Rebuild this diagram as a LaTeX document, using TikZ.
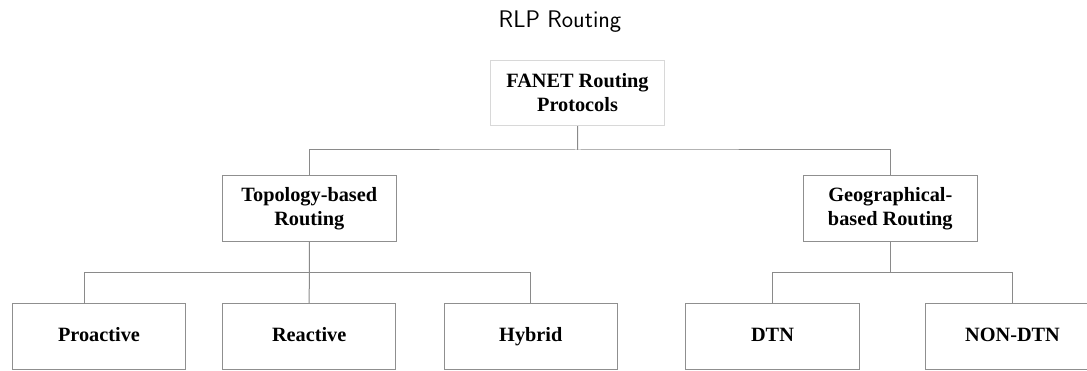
\documentclass[tikz,border=0pt]{standalone}
\usepackage{fontspec}
\newfontfamily\boxfont{Liberation Serif}
\definecolor{linegray}{HTML}{8A8A8A}
\definecolor{boxgray}{HTML}{8F8F8F}
\definecolor{lightgray2}{HTML}{D8D8D8}
\begin{document}
\begin{tikzpicture}[x=1pt,y=-1pt,
  box/.style={draw=boxgray, line width=1pt, fill=white, minimum width=173.5pt,
    minimum height=65.5pt, inner sep=0pt, align=center,
    font=\boxfont\bfseries\fontsize{20.3}{23.5}\selectfont},
  leaf/.style={box, text height=14pt, text depth=3.6pt},
  link/.style={draw=linegray, line width=1pt},
  titletext/.style={font=\sffamily\fontsize{24}{28}\selectfont, inner sep=0pt}]
\useasboundingbox (0,0) rectangle (1087,371);
\clip (0,0) rectangle (1087,371);

\node[titletext, anchor=base] (title) at (560,27.3) {RLP Routing};

\node[box, draw=lightgray2] (fanet) at (577.5,92.8) {FANET Routing\\Protocols};
\node[box] (topo) at (309.3,208.7) {Topology-based\\Routing};
\node[box] (geo) at (890.3,208.7) {Geographical-\\based Routing};

\node[leaf] (pro) at (99,336.5) {Proactive};
\node[leaf] (rea) at (309.2,336.5) {Reactive};
\node[leaf] (hyb) at (530.8,336.5) {Hybrid};
\node[leaf] (dtn) at (772.5,336.5) {DTN};
\node[leaf] (non) at (1012.5,336.5) {NON-DTN};

\coordinate (h1) at (577.6,150);
\coordinate (h2) at (309.3,272.3);
\coordinate (h3) at (890.3,272.3);
\coordinate (proTop) at (84.3,303.7);

\draw[link] (fanet.south) -- (h1);
\draw[link] (topo.north) |- (h1) -| (geo.north);

\draw[link] (topo.south) -- (h2) -- (rea.north);
\draw[link] (proTop) |- (h2) -| (hyb.north);

\draw[link] (geo.south) -- (h3);
\draw[link] (dtn.north) |- (h3) -| (non.north);
\end{tikzpicture}
\end{document}
